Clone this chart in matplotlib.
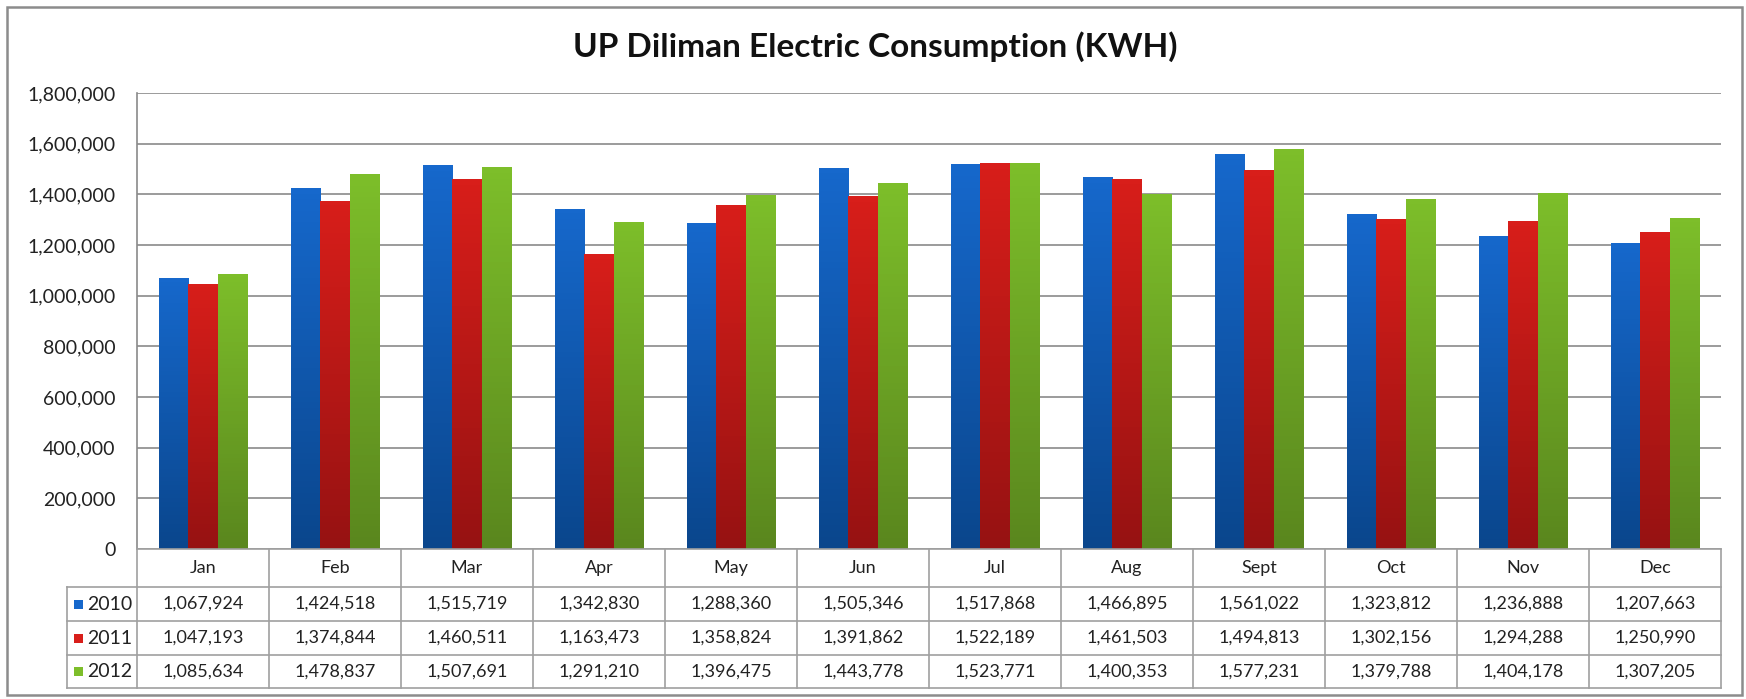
import matplotlib.pyplot as plt
import numpy as np
from matplotlib.colors import LinearSegmentedColormap
from matplotlib.patches import Rectangle

plt.rcParams['font.family'] = ['Lato', 'DejaVu Sans']

months = ['Jan', 'Feb', 'Mar', 'Apr', 'May', 'Jun',
          'Jul', 'Aug', 'Sept', 'Oct', 'Nov', 'Dec']
years = ['2010', '2011', '2012']
kwh_2010 = [1067924, 1424518, 1515719, 1342830, 1288360, 1505346,
            1517868, 1466895, 1561022, 1323812, 1236888, 1207663]
kwh_2011 = [1047193, 1374844, 1460511, 1163473, 1358824, 1391862,
            1522189, 1461503, 1494813, 1302156, 1294288, 1250990]
kwh_2012 = [1085634, 1478837, 1507691, 1291210, 1396475, 1443778,
            1523771, 1400353, 1577231, 1379788, 1404178, 1307205]
yticks = list(range(0, 1800001, 200000))

# (bottom colour, top colour) for the gradient fill
colors = [('#0A468C', '#1668CC'),
          ('#961212', '#D81E1A'),
          ('#5A871E', '#7DBE2A')]

W, H = 1746, 699
fig = plt.figure(figsize=(W / 100, H / 100), dpi=100)

# outer frame
fig.patches.append(Rectangle((7 / W, 4 / H), (1742 - 7) / W, (692 - 4) / H,
                             transform=fig.transFigure, fill=False,
                             edgecolor='#8c8c8c', linewidth=1.8))

ax_l, ax_r, ax_top, ax_bot = 137, 1721, 93, 549
ax = fig.add_axes([ax_l / W, (H - ax_bot) / H, (ax_r - ax_l) / W, (ax_bot - ax_top) / H])

x = np.arange(len(months))
bw = 0.222
series = [kwh_2010, kwh_2011, kwh_2012]
for i, (vals, (c0, c1)) in enumerate(zip(series, colors)):
    cmap = LinearSegmentedColormap.from_list(f'g{i}', [c0, c1])
    bars = ax.bar(x + (i - 1) * bw, vals, width=bw, color='none', zorder=3)
    for b in bars:
        x0, y0 = b.get_x(), b.get_y()
        grad = np.linspace(1, 0, 64).reshape(-1, 1)
        im = ax.imshow(grad, extent=[x0, x0 + b.get_width(), y0, y0 + b.get_height()],
                       aspect='auto', cmap=cmap, vmin=0, vmax=1, zorder=3)
        im.set_clip_path(b)

ax.set_xlim(-0.5, len(months) - 0.5)
ax.set_ylim(0, 1800000)
ax.set_yticks(yticks)
ax.set_yticklabels([f'{v:,}' for v in yticks], fontsize=14, color='#222222')
ax.tick_params(axis='y', length=0, pad=15.5)
ax.set_xticks([])
ax.grid(axis='y', color='#8a8a8a', linewidth=1.2, zorder=0)
ax.set_axisbelow(True)
for s in ['top', 'right', 'bottom']:
    ax.spines[s].set_visible(False)
ax.spines['left'].set_color('#8a8a8a')
ax.spines['left'].set_linewidth(1.2)

fig.text(875 / W, (H - 47) / H, 'UP Diliman Electric Consumption (KWH)',
         ha='center', va='center', fontsize=24, fontweight='bold', color='#111111')

# data table below the plot
leg_l, tab_bot = 67, 688
rows_y = [549, 587, 621, 655, 688]
cat_px = (ax_r - ax_l) / len(months)
leg_w = (ax_l - leg_l) / cat_px
tax = fig.add_axes([leg_l / W, (H - tab_bot) / H, (ax_r - leg_l) / W, (tab_bot - ax_bot) / H])
tax.set_xlim(-0.5 - leg_w, len(months) - 0.5)
tax.set_ylim(tab_bot, ax_bot)
tax.axis('off')
lc = '#a0a0a0'
lw = 1.2
edges = np.arange(len(months) + 1) - 0.5
# horizontal lines
tax.plot([edges[0], edges[-1]], [rows_y[0]] * 2, color=lc, lw=lw, clip_on=False)
for yy in rows_y[1:]:
    tax.plot([edges[0] - leg_w, edges[-1]], [yy] * 2, color=lc, lw=lw, clip_on=False)
# vertical lines
for e in edges:
    tax.plot([e, e], [rows_y[0], rows_y[-1]], color=lc, lw=lw, clip_on=False)
tax.plot([edges[0] - leg_w] * 2, [rows_y[1], rows_y[-1]], color=lc, lw=lw, clip_on=False)

for j, m in enumerate(months):
    tax.text(j, (rows_y[0] + rows_y[1]) / 2, m, ha='center', va='center',
             fontsize=13, color='#222222')
for i, (yr, vals, (c0, c1)) in enumerate(zip(years, series, colors)):
    yc = (rows_y[i + 1] + rows_y[i + 2]) / 2
    for j, v in enumerate(vals):
        tax.text(j, yc, f'{v:,}', ha='center', va='center', fontsize=13, color='#222222')
    sq = 9 / cat_px
    tax.add_patch(Rectangle((edges[0] - leg_w + 7 / cat_px, yc - 4.5), sq, 9,
                            facecolor=c1, edgecolor='none', clip_on=False))
    tax.text(edges[0] - leg_w + 20 / cat_px, yc, yr, ha='left', va='center',
             fontsize=14, color='#222222')

fig.savefig('out.png', dpi=100)
